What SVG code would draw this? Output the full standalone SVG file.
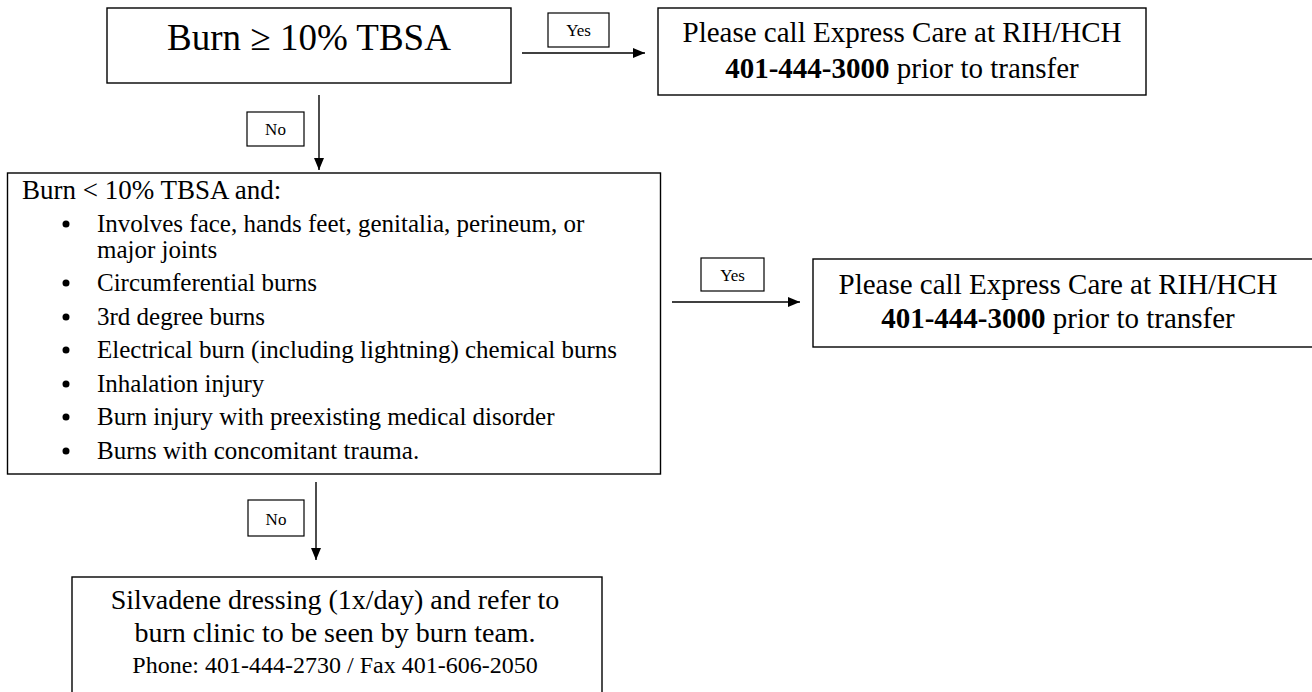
<svg xmlns="http://www.w3.org/2000/svg" width="1312" height="692" viewBox="0 0 1312 692">
<style>
.box{fill:#fff;stroke:#000;stroke-width:1.4}
.lbl{fill:#fff;stroke:#000;stroke-width:1.2}
.t{font-family:"Liberation Serif","Times New Roman",serif;fill:#000}
.c{text-anchor:middle}
.conn{stroke:#000;stroke-width:1.4;fill:none}
.b{font-weight:bold}
</style>
<defs>
<marker id="ah" markerUnits="userSpaceOnUse" markerWidth="12" markerHeight="10" refX="12" refY="5" orient="auto"><path d="M0,0 L12,5 L0,10 z" fill="#000"/></marker>
</defs>
<rect width="1312" height="692" fill="#fff"/>
<g id="n1">
<rect class="box" x="107" y="8" width="404" height="75"/>
<text class="t c" x="309" y="50" font-size="37">Burn ≥ 10% TBSA</text>
</g>
<g id="n2">
<rect class="box" x="658" y="8" width="488" height="87"/>
<text class="t c" x="902" y="42" font-size="29">Please call Express Care at RIH/HCH</text>
<text class="t c" x="902" y="78" font-size="29"><tspan class="b">401-444-3000</tspan> prior to transfer</text>
</g>
<g id="n3">
<rect class="box" x="7.5" y="173" width="653" height="301"/>
<text class="t" x="22" y="199" font-size="27">Burn &lt; 10% TBSA and:</text>
<g fill="#000">
<circle cx="66" cy="224" r="3.5"/>
<circle cx="66" cy="283" r="3.5"/>
<circle cx="66" cy="317" r="3.5"/>
<circle cx="66" cy="350" r="3.5"/>
<circle cx="66" cy="384" r="3.5"/>
<circle cx="66" cy="417" r="3.5"/>
<circle cx="66" cy="451" r="3.5"/>
</g>
<g class="t" font-size="25">
<text x="97" y="232">Involves face, hands feet, genitalia, perineum, or</text>
<text x="97" y="258">major joints</text>
<text x="97" y="291">Circumferential burns</text>
<text x="97" y="325">3rd degree burns</text>
<text x="97" y="358">Electrical burn (including lightning) chemical burns</text>
<text x="97" y="392">Inhalation injury</text>
<text x="97" y="425">Burn injury with preexisting medical disorder</text>
<text x="97" y="459">Burns with concomitant trauma.</text>
</g>
</g>
<g id="n4">
<rect class="box" x="813" y="259" width="501" height="88"/>
<text class="t c" x="1058" y="294" font-size="29">Please call Express Care at RIH/HCH</text>
<text class="t c" x="1058" y="328" font-size="29"><tspan class="b">401-444-3000</tspan> prior to transfer</text>
</g>
<g id="n5">
<rect class="box" x="72" y="577" width="530" height="130"/>
<text class="t c" x="335" y="609" font-size="28">Silvadene dressing (1x/day) and refer to</text>
<text class="t c" x="335" y="642" font-size="28">burn clinic to be seen by burn team.</text>
<text class="t c" x="335" y="673" font-size="24">Phone: 401-444-2730 / Fax 401-606-2050</text>
</g>
<g id="connectors">
<path class="conn" d="M522,53 H645" marker-end="url(#ah)"/>
<path class="conn" d="M319,95 V170" marker-end="url(#ah)"/>
<path class="conn" d="M672,302 H800" marker-end="url(#ah)"/>
<path class="conn" d="M316,482 V560" marker-end="url(#ah)"/>
<g id="lbl-yes1"><rect class="lbl" x="548" y="13" width="61" height="34"/><text class="t c" x="578.5" y="36" font-size="17">Yes</text></g>
<g id="lbl-no1"><rect class="lbl" x="247" y="112" width="57" height="34"/><text class="t c" x="275.5" y="135" font-size="17">No</text></g>
<g id="lbl-yes2"><rect class="lbl" x="701" y="258" width="63" height="33"/><text class="t c" x="732.5" y="281" font-size="17">Yes</text></g>
<g id="lbl-no2"><rect class="lbl" x="248" y="500" width="56" height="36"/><text class="t c" x="276" y="525" font-size="17">No</text></g>
</g>
</svg>
